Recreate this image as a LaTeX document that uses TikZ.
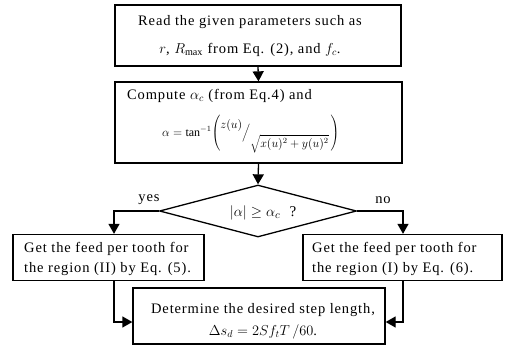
\documentclass[tikz,border=0pt]{standalone}
\usepackage{fontspec}
\setmainfont[LetterSpace=6]{Liberation Serif}
\usetikzlibrary{shapes.geometric,arrows.meta,calc}
\begin{document}
\begin{tikzpicture}[x=1pt,y=-1pt,
  box/.style={draw,line width=1.3pt,inner sep=0pt},
  txt/.style={inner sep=0pt,font=\fontsize{14.5}{20}\selectfont,align=left},
  conn/.style={line width=1.3pt,-{Triangle[width=11pt,length=10pt]}}]
\useasboundingbox (0,0) rectangle (506,345);
% boxes
\node[box,minimum width=286pt,minimum height=61pt] (b1) at (258,35.5) {};
\node[box,minimum width=287pt,minimum height=81pt] (b2) at (258.5,122.5) {};
\node[draw,diamond,line width=1.3pt,minimum width=197pt,minimum height=52pt,inner sep=0pt] (d) at (258,211) {};
\node[box,minimum width=191pt,minimum height=46pt] (b3) at (108.5,257.5) {};
\node[box,minimum width=199pt,minimum height=46pt] (b4) at (402.5,257.5) {};
\node[box,minimum width=252pt,minimum height=56pt] (b5) at (259,316) {};
% texts
\node[txt,align=center,font=\fontsize{14.5}{28}\selectfont] (t1) at (250,36) {Read the given parameters such as\\ $r$, $R_{\max}$ from Eq. (2), and $f_c$.};
\node[txt,anchor=west] (t2) at (127,96) {Compute $\alpha_c$ (from Eq.4) and};
\node[inner sep=0pt,anchor=west,font=\fontsize{12}{14}\selectfont] (eq) at (162,134)
  {$\alpha=\tan^{-1}\!\left(\raisebox{8pt}{$z(u)$}\Big/\raisebox{-11pt}{$\sqrt{x(u)^2+y(u)^2}$}\,\right)$};
\node[inner sep=0pt,font=\fontsize{15}{17}\selectfont] (dq) at (263,213) {$|\alpha|\geq\alpha_c$\ \ ?};
\node[txt] (yes) at (149,200) {yes};
\node[txt] (no) at (383,200) {no};
\node[txt,anchor=west] (t3) at (24,259) {Get the feed per tooth for\\the region (II) by Eq. (5).};
\node[txt,anchor=west] (t4) at (312,259) {Get the feed per tooth for\\the region (I) by Eq. (6).};
\node[txt,align=center,font=\fontsize{14.5}{22}\selectfont] (t5) at (263,321) {Determine the desired step length,\\ $\Delta s_d = 2Sf_tT\,/60$.};
% connectors
\coordinate (yc) at (114,211);
\coordinate (nc) at (403,211);
\coordinate (yl) at (114,322);
\coordinate (nl) at (403,322);
\draw[conn] (b1.south) -- (b2.north);
\draw[conn] (b2.south) -- (d.north);
\draw[conn] (d.west) -- (yc) -- (yc |- b3.north);
\draw[conn] (d.east) -- (nc) -- (nc |- b4.north);
\draw[conn] (yc |- b3.south) -- (yl) -- (yl -| b5.west);
\draw[conn] (nc |- b4.south) -- (nl) -- (nl -| b5.east);
\end{tikzpicture}
\end{document}
